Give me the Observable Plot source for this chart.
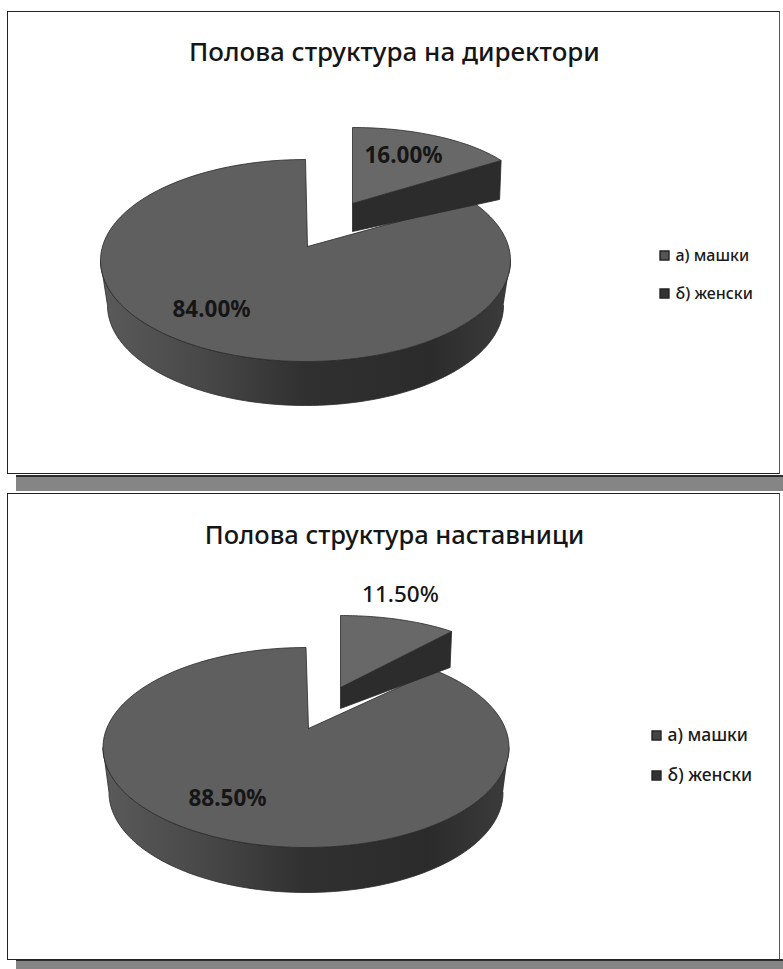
<!DOCTYPE html>
<html lang="mk">
<head>
<meta charset="utf-8">
<title>Полова структура</title>
<script src="https://cdn.jsdelivr.net/npm/d3@7"></script>
<script src="https://cdn.jsdelivr.net/npm/@observablehq/plot@0.6"></script>
<style>
  html, body { margin: 0; background: #fff; }
  #page { position: relative; width: 783px; height: 969px; overflow: hidden; font-family: "Noto Sans", sans-serif; }
  .strip { position: absolute; left: 16px; right: 0; background: #858585; border-top: 2px solid #2e2e2e; box-sizing: border-box; }
  .panel { position: absolute; left: 7px; width: 773px; box-sizing: border-box; border: 1.5px solid #222; border-right-color: #555; background: #fff; }
  .panel svg { position: absolute; left: -8.5px; display: block; overflow: visible; max-width: none !important; }
  .panel h2 { position: absolute; left: 0; right: 0; margin: 0; text-align: center; font-weight: 500; color: #151515; white-space: nowrap; z-index: 1; }
</style>
</head>
<body>
<div id="page"></div>
<script>
// Shares of men and women, in percent
const categories = ["а) машки", "б) женски"];
const directorShares = [16, 84];
const teacherShares = [11.5, 88.5];
const directorTitle = "Полова структура на директори";
const teacherTitle = "Полова структура наставници";

const page = document.getElementById("page");
const rad = (share) => (share / 100) * 2 * Math.PI;

// Point on a tilted disc, angle measured clockwise from twelve o'clock
const onDisc = (d, a) => ({x: d.cx + d.rx * Math.sin(a), y: d.cy - d.ry * Math.cos(a)});

function arc(d, from, to, steps = 90) {
  return d3.range(steps + 1).map((i) => onDisc(d, from + ((to - from) * i) / steps));
}

function drawPanel(cfg) {
  const {shares, title, frame, top, bottom, apex, slice, labels, legend} = cfg;
  const cut = rad(shares[0]);

  // Body of the large slice, between the upper and the lower rim
  const wall = [
    ...arc(top, Math.PI / 2, 1.5 * Math.PI),
    ...arc(bottom, 1.5 * Math.PI, Math.PI / 2)
  ];
  // Upper face of the large slice; the tilt pulls its far edge slightly back
  const face = [apex, ...arc(top, cut - top.tilt, 2 * Math.PI, 180), apex];
  // Pulled-out slice: upper face and the visible cut side
  const tip = onDisc(slice, cut);
  const sliceFace = [slice.apex, ...arc(slice, 0, cut, 40), slice.apex];
  const sliceSide = [
    slice.apex,
    tip,
    {x: tip.x - 1.5, y: tip.y + slice.depthTip},
    {x: slice.apex.x, y: slice.apex.y + slice.depthApex},
    slice.apex
  ];

  const line = (rows, fill) =>
    Plot.line(rows, {x: "x", y: "y", fill, stroke: "#2a2a2a", strokeWidth: 0.8});

  const gradientId = `wall-${frame.top}`;
  const gradient = () => {
    const defs = d3.create("svg:defs");
    const g = defs.append("linearGradient").attr("id", gradientId).attr("x1", 0).attr("x2", 1).attr("y1", 0).attr("y2", 0);
    [[0, "#5a5a5a"], [0.25, "#484848"], [0.5, "#303030"], [0.8, "#2b2b2b"], [1, "#3c3c3c"]]
      .forEach(([o, c]) => g.append("stop").attr("offset", o).attr("stop-color", c));
    return defs.node();
  };

  const legendRows = categories.map((name, i) => ({name, x: legend.x, y: legend.ys[i], shade: legend.shades[i]}));

  const shareLabel = (i) =>
    Plot.text([shares[i]], {
      x: () => labels[i].x,
      y: () => labels[i].y,
      text: (v) => `${v.toFixed(2)}%`,
      fontSize: labels[i].size,
      fontWeight: labels[i].weight,
      fill: "#161616"
    });

  const svg = Plot.plot({
    width: 783,
    height: frame.bottom - frame.top,
    margin: 0,
    x: {domain: [0, 783], range: [0, 783], axis: null},
    y: {domain: [frame.top, frame.bottom], range: [0, frame.bottom - frame.top], axis: null},
    color: {type: "identity"},
    style: {background: "none", fontFamily: '"Noto Sans", sans-serif'},
    marks: [
      gradient,
      line(wall, `url(#${gradientId})`),
      line(face, "#5f5f5f"),
      line(sliceSide, "#2c2c2c"),
      line(sliceFace, "#686868"),
      shareLabel(0),
      shareLabel(1),
      Plot.dot(legendRows, {x: "x", y: "y", symbol: "square", r: legend.r, fill: "shade", stroke: "#222"}),
      Plot.text(legendRows, {
        x: (d) => d.x + legend.gap,
        y: "y",
        text: "name",
        textAnchor: "start",
        fontSize: legend.size,
        fontWeight: 500,
        fill: "#1a1a1a"
      })
    ]
  });

  const panel = document.createElement("div");
  panel.className = "panel";
  panel.style.top = `${frame.top}px`;
  panel.style.height = `${frame.bottom - frame.top}px`;
  const h = document.createElement("h2");
  h.textContent = title;
  h.style.top = `${cfg.titleTop - frame.top}px`;
  h.style.fontSize = `${cfg.titleSize}px`;
  h.style.lineHeight = "34px";
  h.style.transform = `translateX(${cfg.titleX}px)`;
  panel.append(h, svg);
  svg.style.top = "-1.5px";
  page.append(panel);
}

// Grey bands left under each frame
for (const [top, height] of [[475, 16], [959, 10]]) {
  const s = document.createElement("div");
  s.className = "strip";
  s.style.top = `${top}px`;
  s.style.height = `${height}px`;
  page.append(s);
}

drawPanel({
  shares: directorShares,
  title: directorTitle,
  titleTop: 33,
  titleSize: 26,
  titleX: 1,
  frame: {top: 11, bottom: 474},
  top: {cx: 305, cy: 260, rx: 205, ry: 101, tilt: 0.06},
  bottom: {cx: 305, cy: 305, rx: 198, ry: 100},
  apex: {x: 307, y: 246},
  slice: {cx: 352, cy: 198, rx: 176, ry: 71, apex: {x: 352, y: 203}, depthApex: 28, depthTip: 39},
  labels: [{x: 403, y: 155, weight: 700, size: 22.5}, {x: 211, y: 309, weight: 700, size: 22.5}],
  legend: {x: 664, ys: [255, 293], r: 5, gap: 11, size: 16, shades: ["#555", "#333"]}
});

drawPanel({
  shares: teacherShares,
  title: teacherTitle,
  titleTop: 516,
  titleSize: 25.5,
  titleX: 1,
  frame: {top: 493, bottom: 960},
  top: {cx: 305.5, cy: 747, rx: 203, ry: 100, tilt: 0.03},
  bottom: {cx: 305.5, cy: 792, rx: 197, ry: 100},
  apex: {x: 308, y: 728},
  slice: {cx: 340, cy: 679, rx: 168, ry: 64, apex: {x: 340, y: 687}, depthApex: 21, depthTip: 36},
  labels: [{x: 400, y: 594, weight: 500, size: 22.5}, {x: 227, y: 798, weight: 700, size: 22.5}],
  legend: {x: 656, ys: [735, 775], r: 5, gap: 11, size: 17.5, shades: ["#444", "#333"]}
});
</script>
</body>
</html>
